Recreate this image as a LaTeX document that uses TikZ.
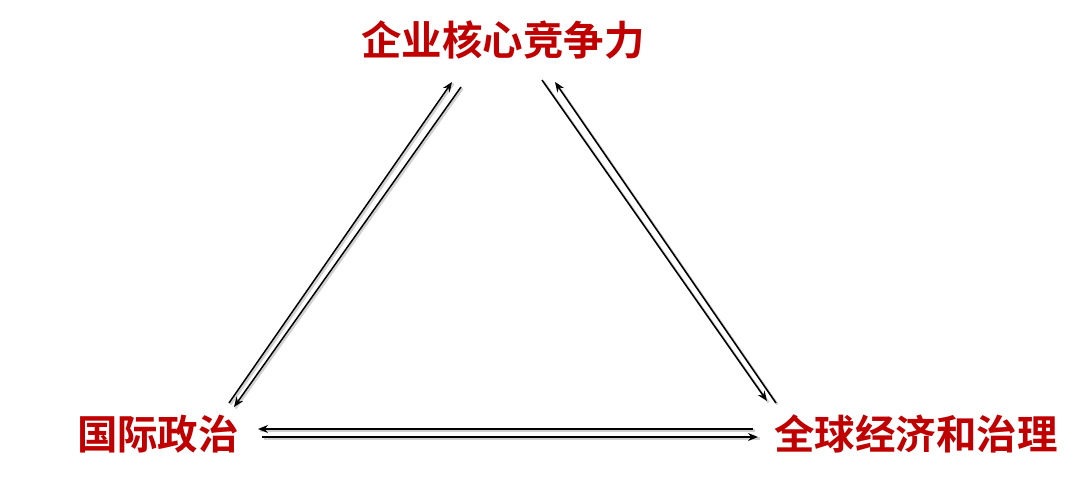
\documentclass[tikz,border=0pt]{standalone}
\usepackage{fontspec}
\newfontfamily\cjk{Noto Sans CJK SC Bold}
\usetikzlibrary{arrows.meta}
\definecolor{titlered}{HTML}{C00000}
\tikzset{
  lbl/.style={text=titlered,font=\cjk\fontsize{40.5}{42}\selectfont,inner sep=0pt},
  link/.style={line width=1.5pt,black,-{Stealth[length=10pt,width=8pt]}},
  shad/.style={line width=2.4pt,black!18,transform canvas={shift={(1.5pt,-1.5pt)}}},
}
\begin{document}
\begin{tikzpicture}[x=1pt,y=-1pt]
\useasboundingbox (0,0) rectangle (1080,482);
\node[lbl] (top) at (503,40) {企业核心竞争力};
\node[lbl] (left) at (158,434) {国际政治};
\node[lbl] (right) at (916,434) {全球经济和治理};
% endpoints
\coordinate (a1) at (229,403); \coordinate (a2) at (452,82);
\coordinate (b1) at (461,87);  \coordinate (b2) at (234,407);
\coordinate (c1) at (542,80);  \coordinate (c2) at (767,401);
\coordinate (d1) at (776,403); \coordinate (d2) at (555,82);
\coordinate (e1) at (753,429); \coordinate (e2) at (258,429);
\coordinate (f1) at (262,437); \coordinate (f2) at (758,437);
% shadows
\foreach \p/\q in {a1/a2,b1/b2,c1/c2,d1/d2,e1/e2,f1/f2}
  \draw[shad] (\p) -- (\q);
% connectors
\draw[link] (a1) -- (a2);
\draw[link] (b1) -- (b2);
\draw[link] (c1) -- (c2);
\draw[link] (d1) -- (d2);
\draw[link] (e1) -- (e2);
\draw[link] (f1) -- (f2);
\end{tikzpicture}
\end{document}
